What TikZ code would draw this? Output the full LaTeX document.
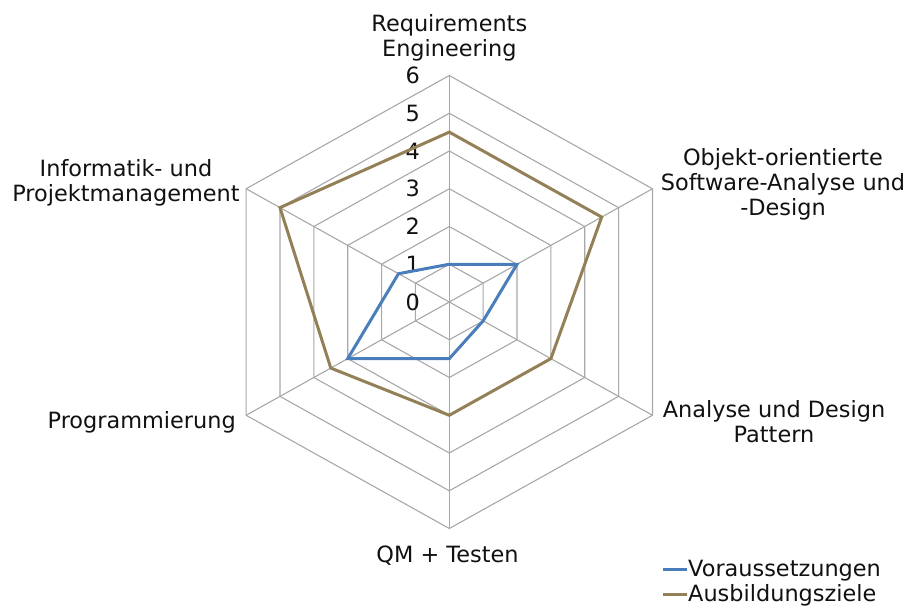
\documentclass[tikz,border=0pt]{standalone}
\usepackage{fontspec}
\setmainfont{DejaVu Sans}
\definecolor{gridc}{HTML}{A8A8A8}
\definecolor{bluec}{HTML}{4A7EBB}
\definecolor{brownc}{HTML}{938057}
\definecolor{txtc}{HTML}{111111}
\begin{document}
\begin{tikzpicture}[x=1pt,y=-1pt,
  lbl/.style={font=\fontsize{22.4}{25}\selectfont, inner sep=0pt, text=txtc},
  gridline/.style={draw=gridc, line width=1.1pt},
  serA/.style={draw=bluec, line width=3pt, line join=miter},
  serB/.style={draw=brownc, line width=3pt, line join=miter}]
\useasboundingbox (0,0) rectangle (906,606);
\def\cx{449.3}\def\cy{302}\def\sx{39.1}\def\sy{37.75}
% grid coordinates
\foreach \k in {0,...,5}{
  \foreach \r in {0,...,6}{
    \coordinate (g\k-\r) at ({\cx+\sx*\r*cos(90-60*\k)},{\cy-\sy*\r*sin(90-60*\k)});
  }
}
% hexagons
\foreach \r in {1,...,6}{
  \draw[gridline] (g0-\r) -- (g1-\r) -- (g2-\r) -- (g3-\r) -- (g4-\r) -- (g5-\r) -- cycle;
}
% spokes
\foreach \k in {0,...,5}{
  \draw[gridline] (g\k-0) -- (g\k-6);
}
% level labels
\foreach \r in {0,...,6}{
  \node[lbl, anchor=east] (lv\r) at ({\cx-29.3},{\cy-\sy*\r}) {\r};
}
% data coordinates
\foreach \k/\v in {0/1,1/2,2/1,3/1.5,4/3,5/1.5}{
  \coordinate (a\k) at ({\cx+\sx*\v*cos(90-60*\k)},{\cy-\sy*\v*sin(90-60*\k)});
}
\foreach \k/\v in {0/4.5,1/4.5,2/3,3/3,4/3.5,5/5}{
  \coordinate (b\k) at ({\cx+\sx*\v*cos(90-60*\k)},{\cy-\sy*\v*sin(90-60*\k)});
}
\draw[serB] (b0) -- (b1) -- (b2) -- (b3) -- (b4) -- (b5) -- cycle;
\draw[serA] (a0) -- (a1) -- (a2) -- (a3) -- (a4) -- (a5) -- cycle;
% category labels
\node[lbl, anchor=base] (re1) at (449.3,31.5) {Requirements};
\node[lbl, anchor=base] (re2) at (449.3,56.5) {Engineering};
\node[lbl, anchor=base] (oo1) at (783,165) {Objekt-orientierte};
\node[lbl, anchor=base] (oo2) at (783,190) {Software-Analyse und};
\node[lbl, anchor=base] (oo3) at (783,215) {-Design};
\node[lbl, anchor=base] (ad1) at (774,417) {Analyse und Design};
\node[lbl, anchor=base] (ad2) at (774,442) {Pattern};
\node[lbl, anchor=base] (qm) at (447.5,562) {QM + Testen};
\node[lbl, anchor=base east] (pr) at (236,428) {Programmierung};
\node[lbl, anchor=base] (in1) at (126,176) {Informatik- und};
\node[lbl, anchor=base] (in2) at (126,201) {Projektmanagement};
% legend
\coordinate (la1) at (663,569);
\coordinate (la2) at (687,569);
\coordinate (lb1) at (663,594);
\coordinate (lb2) at (687,594);
\draw[serA] (la1) -- (la2);
\draw[serB] (lb1) -- (lb2);
\node[lbl, anchor=base west] (lga) at (688,576) {Voraussetzungen};
\node[lbl, anchor=base west] (lgb) at (688,601) {Ausbildungsziele};
\end{tikzpicture}
\end{document}
